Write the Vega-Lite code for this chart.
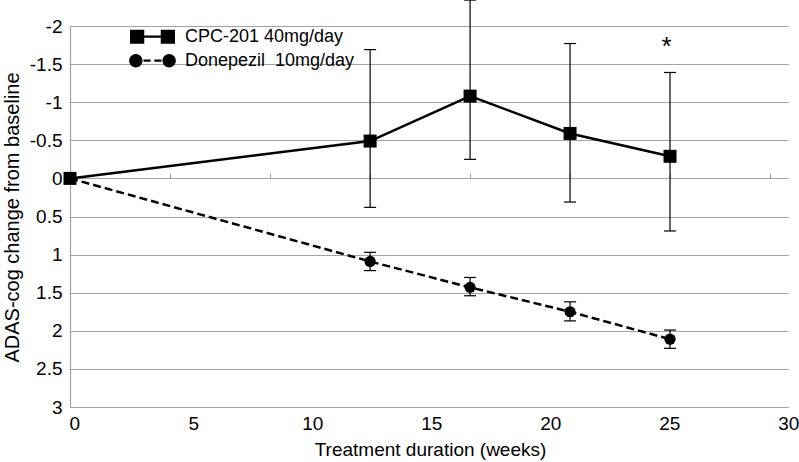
{
  "$schema": "https://vega.github.io/schema/vega-lite/v6.json",
  "width": 700,
  "height": 381,
  "autosize": {"type": "none"},
  "padding": {"left": 70, "top": 26, "right": 29, "bottom": 55},
  "config": {
    "view": {"stroke": null},
    "font": "Liberation Sans",
    "axis": {"labelFont": "Liberation Sans", "titleFont": "Liberation Sans", "labelColor": "black", "titleColor": "black", "titleFontWeight": "normal"},
    "axisY": {"grid": true, "gridColor": "#a3a3a3", "gridWidth": 1.2, "domain": true, "domainColor": "#a3a3a3", "domainWidth": 1.2, "ticks": false, "tickSize": 0, "labelPadding": 8, "labelFontSize": 19, "labelOverlap": false, "titleFontSize": 20, "titleAngle": 270, "titleX": -52, "titleY": 191, "titleBaseline": "alphabetic", "titleAlign": "center"},
    "legend": {"labelFont": "Liberation Sans", "labelColor": "black"}
  },
  "datasets": {
    "obs": [
      {"series": "CPC-201 40mg/day", "week": -0.18, "value": 0},
      {"series": "CPC-201 40mg/day", "week": 12.43, "value": -0.49, "lo": -1.69, "hi": 0.38},
      {"series": "CPC-201 40mg/day", "week": 16.63, "value": -1.08, "lo": -2.34, "hi": -0.25},
      {"series": "CPC-201 40mg/day", "week": 20.83, "value": -0.59, "lo": -1.77, "hi": 0.31},
      {"series": "CPC-201 40mg/day", "week": 25.03, "value": -0.29, "lo": -1.39, "hi": 0.69},
      {"series": "Donepezil\u00a0 10mg/day", "week": -0.18, "value": 0},
      {"series": "Donepezil\u00a0 10mg/day", "week": 12.43, "value": 1.09, "lo": 0.97, "hi": 1.21},
      {"series": "Donepezil\u00a0 10mg/day", "week": 16.63, "value": 1.43, "lo": 1.30, "hi": 1.54},
      {"series": "Donepezil\u00a0 10mg/day", "week": 20.83, "value": 1.75, "lo": 1.62, "hi": 1.87},
      {"series": "Donepezil\u00a0 10mg/day", "week": 25.03, "value": 2.11, "lo": 1.99, "hi": 2.23}
    ],
    "sig": [
      {"week": 24.89, "value": -1.62, "label": "*"}
    ]
  },
  "resolve": {"axis": {"x": "independent"}},
  "layer": [
    {
      "data": {"name": "obs"},
      "transform": [{"filter": "isValid(datum.lo)"}],
      "mark": {"type": "rule", "color": "black", "strokeWidth": 1.2, "opacity": 1},
      "encoding": {
        "x": {"field": "week", "type": "quantitative",
          "scale": {"domain": [-0.18, 30], "range": [0, 718.3], "nice": false, "zero": false},
          "axis": {"orient": "top", "offset": -152.4, "values": [-0.18, 4.02, 8.22, 12.43, 16.63, 20.83, 25.03, 29.23], "labels": false, "domain": false, "grid": false, "ticks": true, "tickSize": 5, "tickColor": "#a3a3a3", "tickWidth": 1.2, "title": null}},
        "y": {"field": "lo", "type": "quantitative", "title": "ADAS-cog change from baseline",
          "scale": {"domain": [-2, 3], "reverse": true, "nice": false, "zero": false},
          "axis": {"values": [-2, -1.5, -1, -0.5, 0, 0.5, 1, 1.5, 2, 2.5, 3], "labelExpr": "toString(datum.value)"}},
        "y2": {"field": "hi"}
      }
    },
    {
      "data": {"name": "obs"},
      "transform": [{"filter": "isValid(datum.lo)"}],
      "mark": {"type": "tick", "orient": "horizontal", "size": 12, "thickness": 1.2, "color": "black", "opacity": 1},
      "encoding": {
        "x": {"field": "week", "type": "quantitative", "scale": {"domain": [-0.18, 30], "range": [0, 718.3], "nice": false, "zero": false}, "axis": null},
        "y": {"field": "lo", "type": "quantitative", "title": "ADAS-cog change from baseline", "scale": {"domain": [-2, 3], "reverse": true, "nice": false, "zero": false},
          "axis": {"values": [-2, -1.5, -1, -0.5, 0, 0.5, 1, 1.5, 2, 2.5, 3], "labelExpr": "toString(datum.value)"}}
      }
    },
    {
      "data": {"name": "obs"},
      "transform": [{"filter": "isValid(datum.hi)"}],
      "mark": {"type": "tick", "orient": "horizontal", "size": 12, "thickness": 1.2, "color": "black", "opacity": 1},
      "encoding": {
        "x": {"field": "week", "type": "quantitative", "scale": {"domain": [-0.18, 30], "range": [0, 718.3], "nice": false, "zero": false}, "axis": null},
        "y": {"field": "hi", "type": "quantitative", "title": "ADAS-cog change from baseline", "scale": {"domain": [-2, 3], "reverse": true, "nice": false, "zero": false},
          "axis": {"values": [-2, -1.5, -1, -0.5, 0, 0.5, 1, 1.5, 2, 2.5, 3], "labelExpr": "toString(datum.value)"}}
      }
    },
    {
      "data": {"name": "obs"},
      "transform": [{"filter": "datum.series === 'CPC-201 40mg/day'"}],
      "mark": {"type": "line", "color": "black", "strokeWidth": 2.5, "opacity": 1},
      "encoding": {
        "x": {"field": "week", "type": "quantitative",
          "scale": {"domain": [-0.18, 30], "range": [0, 718.3], "nice": false, "zero": false},
          "axis": {"orient": "bottom", "values": [0, 5, 10, 15, 20, 25, 30], "format": "d", "domain": false, "ticks": false, "tickSize": 0, "grid": false, "labelPadding": 7, "labelFontSize": 19, "labelFlush": false, "labelOverlap": false, "title": "Treatment duration (weeks)", "titleFontSize": 19, "titleX": 360, "titleY": 48, "titleBaseline": "alphabetic", "titleAlign": "center"}},
        "y": {"field": "value", "type": "quantitative", "title": "ADAS-cog change from baseline", "scale": {"domain": [-2, 3], "reverse": true, "nice": false, "zero": false},
          "axis": {"values": [-2, -1.5, -1, -0.5, 0, 0.5, 1, 1.5, 2, 2.5, 3], "labelExpr": "toString(datum.value)"}},
        "order": {"field": "week", "type": "quantitative"}
      }
    },
    {
      "data": {"name": "obs"},
      "transform": [{"filter": "datum.series !== 'CPC-201 40mg/day'"}],
      "mark": {"type": "line", "color": "black", "strokeWidth": 2.5, "strokeDash": [8, 4], "opacity": 1},
      "encoding": {
        "x": {"field": "week", "type": "quantitative", "scale": {"domain": [-0.18, 30], "range": [0, 718.3], "nice": false, "zero": false}, "axis": null},
        "y": {"field": "value", "type": "quantitative", "title": "ADAS-cog change from baseline", "scale": {"domain": [-2, 3], "reverse": true, "nice": false, "zero": false},
          "axis": {"values": [-2, -1.5, -1, -0.5, 0, 0.5, 1, 1.5, 2, 2.5, 3], "labelExpr": "toString(datum.value)"}},
        "order": {"field": "week", "type": "quantitative"}
      }
    },
    {
      "data": {"name": "obs"},
      "transform": [{"filter": "datum.series !== 'CPC-201 40mg/day'"}],
      "mark": {"type": "point", "shape": "circle", "filled": true, "size": 125, "color": "black", "opacity": 1},
      "encoding": {
        "x": {"field": "week", "type": "quantitative", "scale": {"domain": [-0.18, 30], "range": [0, 718.3], "nice": false, "zero": false}, "axis": null},
        "y": {"field": "value", "type": "quantitative", "title": "ADAS-cog change from baseline", "scale": {"domain": [-2, 3], "reverse": true, "nice": false, "zero": false},
          "axis": {"values": [-2, -1.5, -1, -0.5, 0, 0.5, 1, 1.5, 2, 2.5, 3], "labelExpr": "toString(datum.value)"}}
      }
    },
    {
      "data": {"name": "obs"},
      "transform": [{"filter": "datum.series === 'CPC-201 40mg/day'"}],
      "mark": {"type": "point", "shape": "square", "filled": true, "size": 169, "color": "black", "opacity": 1},
      "encoding": {
        "x": {"field": "week", "type": "quantitative", "scale": {"domain": [-0.18, 30], "range": [0, 718.3], "nice": false, "zero": false}, "axis": null},
        "y": {"field": "value", "type": "quantitative", "title": "ADAS-cog change from baseline", "scale": {"domain": [-2, 3], "reverse": true, "nice": false, "zero": false},
          "axis": {"values": [-2, -1.5, -1, -0.5, 0, 0.5, 1, 1.5, 2, 2.5, 3], "labelExpr": "toString(datum.value)"}}
      }
    },
    {
      "data": {"name": "obs"},
      "transform": [{"filter": "false"}],
      "mark": {"type": "point", "filled": true, "color": "black", "opacity": 1},
      "encoding": {
        "x": {"field": "week", "type": "quantitative", "scale": {"domain": [-0.18, 30], "range": [0, 718.3], "nice": false, "zero": false}, "axis": null},
        "y": {"field": "value", "type": "quantitative", "title": "ADAS-cog change from baseline", "scale": {"domain": [-2, 3], "reverse": true, "nice": false, "zero": false},
          "axis": {"values": [-2, -1.5, -1, -0.5, 0, 0.5, 1, 1.5, 2, 2.5, 3], "labelExpr": "toString(datum.value)"}},
        "shape": {"field": "series", "type": "nominal",
          "scale": {"domain": ["CPC-201 40mg/day", "Donepezil\u00a0 10mg/day"],
            "range": ["M-3,-0.93H-1.1V-0.15H1.1V-0.93H3V0.93H1.1V0.15H-1.1V0.93H-3Z",
              "M-1.33,0C-1.33,0.4915,-1.7285,0.89,-2.22,0.89C-2.7115,0.89,-3.11,0.4915,-3.11,0C-3.11,-0.4915,-2.7115,-0.89,-2.22,-0.89C-1.7285,-0.89,-1.33,-0.4915,-1.33,0ZM3.11,0C3.11,0.4915,2.7115,0.89,2.22,0.89C1.7285,0.89,1.33,0.4915,1.33,0C1.33,-0.4915,1.7285,-0.89,2.22,-0.89C2.7115,-0.89,3.11,-0.4915,3.11,0ZM-1.2,-0.15H-0.25V0.15H-1.2ZM0.25,-0.15H1.2V0.15H0.25Z"]},
          "legend": {"title": null, "orient": "none", "legendX": 73.5, "legendY": 1.7, "padding": 0, "rowPadding": 6, "labelFontSize": 18, "labelOffset": 23.5, "labelLimit": 300, "symbolSize": 225, "symbolStrokeWidth": 0, "symbolFillColor": "black", "symbolOpacity": 1}}
      }
    },
    {
      "data": {"name": "sig"},
      "mark": {"type": "text", "fontSize": 26, "baseline": "alphabetic", "align": "center", "color": "black", "font": "Liberation Sans"},
      "encoding": {
        "x": {"field": "week", "type": "quantitative", "scale": {"domain": [-0.18, 30], "range": [0, 718.3], "nice": false, "zero": false}, "axis": null},
        "y": {"field": "value", "type": "quantitative", "title": "ADAS-cog change from baseline", "scale": {"domain": [-2, 3], "reverse": true, "nice": false, "zero": false},
          "axis": {"values": [-2, -1.5, -1, -0.5, 0, 0.5, 1, 1.5, 2, 2.5, 3], "labelExpr": "toString(datum.value)"}},
        "text": {"field": "label"}
      }
    }
  ]
}
